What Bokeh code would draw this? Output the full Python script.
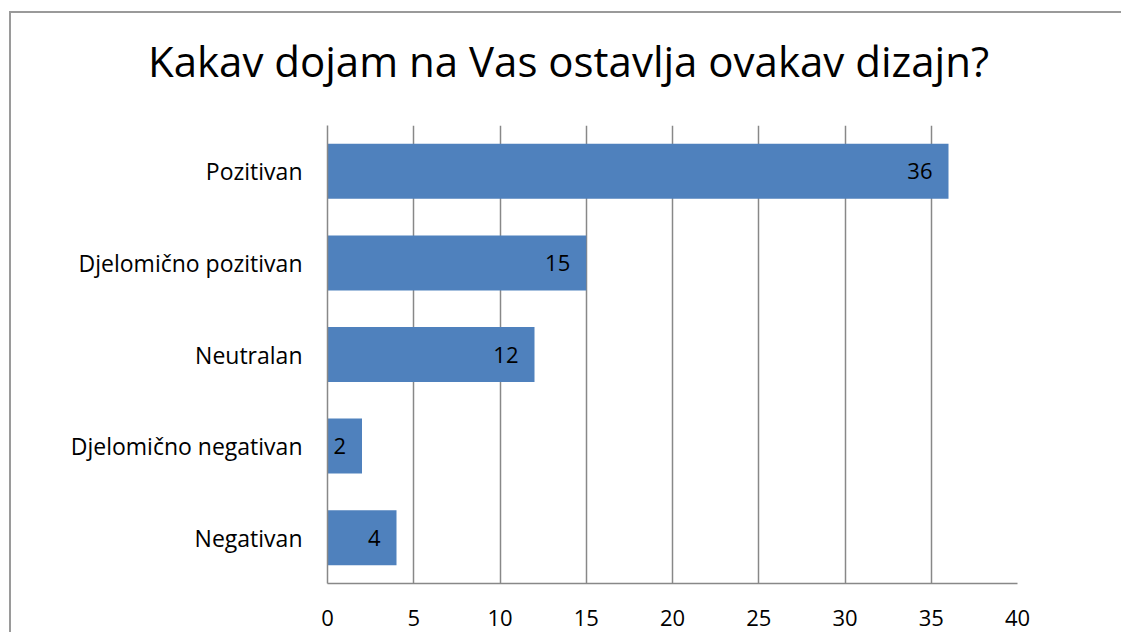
from bokeh.plotting import figure
from bokeh.models import ColumnDataSource, Range1d, FactorRange, LabelSet, Div
from bokeh.layouts import column
from bokeh.core.properties import value
from bokeh.embed import file_html
from bokeh.resources import INLINE

categories = ["Pozitivan", "Djelomično pozitivan", "Neutralan", "Djelomično negativan", "Negativan"]
values = [36, 15, 12, 2, 4]
x_ticks = [0, 5, 10, 15, 20, 25, 30, 35, 40]
title_text = "Kakav dojam na Vas ostavlja ovakav dizajn?"

FONT = "Open Sans"
BAR = "#4F81BD"
GRID = "#888888"
W = 1110
TITLE_H = 77

src = ColumnDataSource(dict(cat=categories, val=values, lab=[str(v) for v in values]))

title = Div(text=(f'<div style="font-family:\'{FONT}\';font-size:42px;line-height:54px;'
                  f'text-align:center;padding-top:21px;padding-left:5px;width:{W}px;'
                  f'color:black;white-space:nowrap">{title_text}</div>'),
            width=W, height=TITLE_H, margin=0)

p = figure(width=W, height=619 - TITLE_H, output_backend="svg", toolbar_location=None,
           x_range=Range1d(0, 40), y_range=FactorRange(*reversed(categories)),
           min_border_left=316, min_border_right=104, min_border_top=35, min_border_bottom=49,
           margin=0)

p.hbar(y="cat", right="val", left=0, height=0.6, source=src, fill_color=BAR, line_color=None)

p.add_layout(LabelSet(x="val", y="cat", text="lab", source=src, text_align="right",
                      text_baseline="middle", x_offset=-16, text_font=value(FONT),
                      text_font_size="22px", text_color="black"))

p.outline_line_color = None
p.ygrid.grid_line_color = None
p.xgrid.grid_line_color = GRID
p.xgrid.grid_line_width = 1.5
p.xaxis.ticker = x_ticks
p.xaxis.axis_line_color = GRID
p.xaxis.axis_line_width = 1.5
p.yaxis.axis_line_color = GRID
p.yaxis.axis_line_width = 1.5
for ax in (p.xaxis, p.yaxis):
    ax.major_tick_line_color = None
    ax.minor_tick_line_color = None
    ax.major_label_text_font = FONT
    ax.major_label_text_color = "black"
p.xaxis.major_label_text_font_size = "22px"
p.yaxis.major_label_text_font_size = "23px"
p.xaxis.major_label_standoff = 20
p.yaxis.major_label_standoff = 19
p.y_range.range_padding = 0
p.y_range.group_padding = 0

layout = column(title, p, spacing=0,
                styles={"margin-left": "9px", "margin-top": "11px", "background": "white",
                        "border-left": "2px solid #9a9a9a", "border-top": "2px solid #9a9a9a"})

open("out.html", "w").write(file_html(layout, INLINE))
